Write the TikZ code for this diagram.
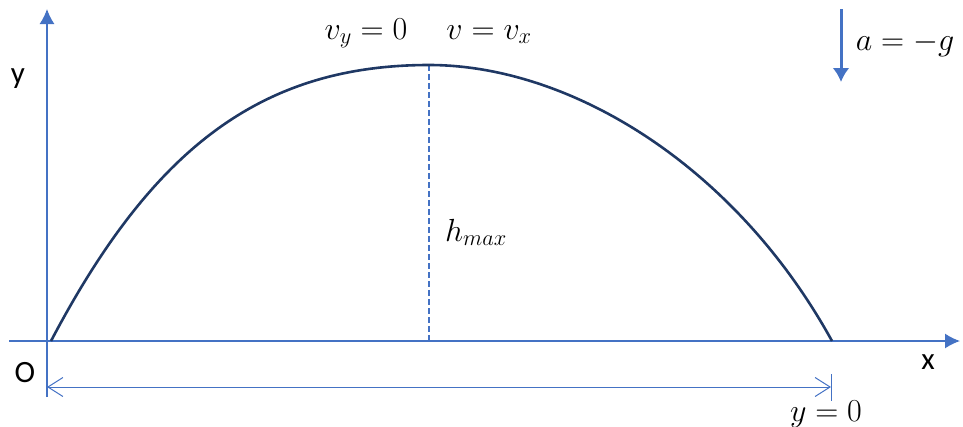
\RequirePackage{fix-cm}
\documentclass[tikz,border=0pt]{standalone}
\usepackage{fontspec}
\setmainfont{Carlito}
\usetikzlibrary{arrows.meta}
\definecolor{axisblue}{HTML}{4472C4}
\definecolor{navy}{HTML}{1F3864}
\begin{document}
\begin{tikzpicture}[x=1pt,y=-1pt,
  axis/.style={draw=axisblue,line width=1.5pt,-{Latex[length=15pt,width=15pt]}},
  dimline/.style={draw=axisblue,line width=1pt,{Straight Barb[length=15pt,width=19pt]}-{Straight Barb[length=15pt,width=19pt]}},
  lbl/.style={inner sep=0pt,font=\fontsize{31}{34}\selectfont},
  mlbl/.style={inner sep=0pt,font=\fontsize{32}{38}\selectfont}]
\useasboundingbox (0,0) rectangle (963,426);
% coordinates
\coordinate (ybot) at (47,397);
\coordinate (ytop) at (47,9);
\coordinate (xleft) at (9,341);
\coordinate (xright) at (960,341);
\coordinate (start) at (51,341);
\coordinate (peak) at (429,65);
\coordinate (land) at (832,341);
\coordinate (foot) at (429,341);
\coordinate (dl) at (47,387);
\coordinate (dr) at (831,387);
\coordinate (tickt) at (831,374);
\coordinate (tickb) at (831,401);
\coordinate (atop) at (841,9);
\coordinate (abot) at (841,82);
% axes
\draw[axis] (ybot) -- (ytop);
\draw[axis] (xleft) -- (xright);
% dashed height line
\draw[axisblue,line width=1.2pt,dash pattern=on 6pt off 3pt] (peak) -- (foot);
% trajectory
\draw[navy,line width=2.6pt] (start) .. controls (151,151) and (259,65) .. (peak)
  .. controls (570,65) and (735,165) .. (land);
% range dimension
\draw[axisblue,line width=1pt] (tickt) -- (tickb);
\draw[dimline] (dl) -- (dr);
% acceleration arrow
\draw[axisblue,line width=3pt,-{Latex[length=14pt,width=17pt]}] (atop) -- (abot);
% labels
\node[lbl] (ylab) at (18,79) {y};
\node[lbl] (olab) at (25,373) {O};
\node[lbl] (xlab) at (928,362) {x};
\node[mlbl,anchor=base] (vy) at (366,39) {$v_y=0$};
\node[mlbl,anchor=base] (vv) at (489,39) {$v=v_x$};
\node[mlbl,anchor=base] (ag) at (905,50) {$a=-g$};
\node[mlbl,anchor=base] (hm) at (476,241) {$h_{max}$};
\node[mlbl,anchor=base] (y0) at (826,421) {$y=0$};
\end{tikzpicture}
\end{document}
